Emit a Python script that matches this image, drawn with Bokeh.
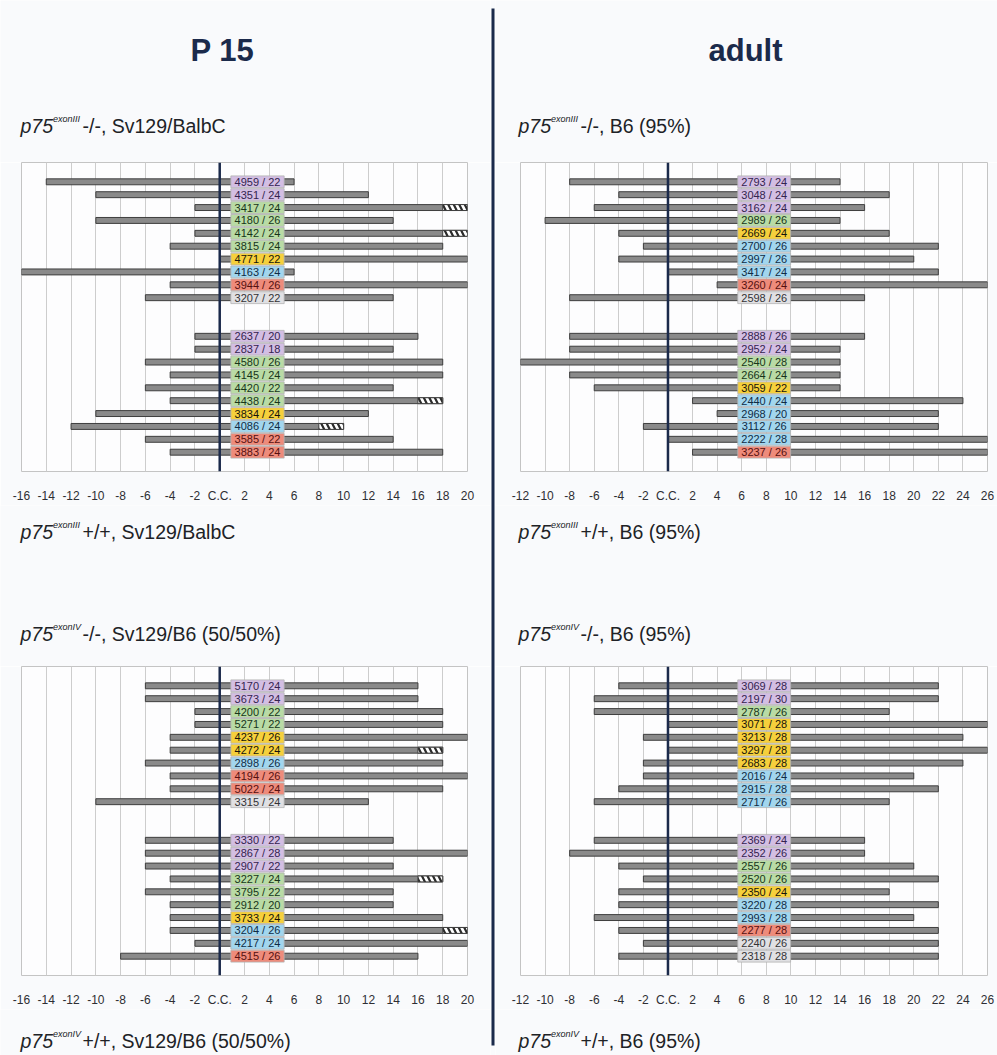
from bokeh.plotting import figure
from bokeh.layouts import row, column
from bokeh.models import Range1d, FixedTicker, Span
from bokeh.core.properties import value
from bokeh.embed import file_html
from bokeh.resources import INLINE

# ---------------------------------------------------------------------------
# Data: clone id, n, segment start / end (relative to C.C.), clone category,
# and where a hatched (uncertain) end segment begins (None = no hatching).
# The first 10 entries of each panel are -/- animals, the last 10 are +/+.
# ---------------------------------------------------------------------------

# P15, p75 exonIII, Sv129/BalbC
tl_ids = [4959, 4351, 3417, 4180, 4142, 3815, 4771, 4163, 3944, 3207,
          2637, 2837, 4580, 4145, 4420, 4438, 3834, 4086, 3585, 3883]
tl_n = [22, 24, 24, 26, 24, 24, 22, 24, 26, 22,
        20, 18, 26, 24, 22, 24, 24, 24, 22, 24]
tl_start = [-14, -10, -2, -10, -2, -4, 0, -16, -4, -6,
            -2, -2, -6, -4, -6, -4, -10, -12, -6, -4]
tl_end = [6, 12, 20, 14, 20, 18, 20, 6, 20, 14,
          16, 14, 18, 18, 14, 18, 12, 10, 14, 18]
tl_cat = ["purple", "purple", "green", "green", "green", "green", "yellow", "blue", "red", "gray",
          "purple", "purple", "green", "green", "green", "green", "yellow", "blue", "red", "red"]
tl_hatch = [None, None, 18, None, 18, None, None, None, None, None,
            None, None, None, None, None, 16, None, 8, None, None]

# adult, p75 exonIII, B6 (95%)
tr_ids = [2793, 3048, 3162, 2989, 2669, 2700, 2997, 3417, 3260, 2598,
          2888, 2952, 2540, 2664, 3059, 2440, 2968, 3112, 2222, 3237]
tr_n = [24, 24, 24, 26, 24, 26, 26, 24, 24, 26,
        26, 24, 28, 24, 22, 24, 20, 26, 28, 26]
tr_start = [-8, -4, -6, -10, -4, -2, -4, 0, 4, -8,
            -8, -8, -12, -8, -6, 2, 4, -2, 0, 2]
tr_end = [14, 18, 16, 14, 18, 22, 20, 22, 26, 16,
          16, 14, 14, 14, 14, 24, 22, 22, 26, 26]
tr_cat = ["purple", "purple", "purple", "green", "yellow", "blue", "blue", "blue", "red", "gray",
          "purple", "purple", "green", "green", "yellow", "blue", "blue", "blue", "blue", "red"]
tr_hatch = [None] * 20

# P15, p75 exonIV, Sv129/B6 (50/50%)
bl_ids = [5170, 3673, 4200, 5271, 4237, 4272, 2898, 4194, 5022, 3315,
          3330, 2867, 2907, 3227, 3795, 2912, 3733, 3204, 4217, 4515]
bl_n = [24, 24, 22, 22, 26, 24, 26, 26, 24, 24,
        22, 28, 22, 24, 22, 20, 24, 26, 24, 26]
bl_start = [-6, -6, -2, -2, -4, -4, -6, -4, -4, -10,
            -6, -6, -6, -4, -6, -4, -4, -4, -2, -8]
bl_end = [16, 16, 18, 18, 20, 18, 18, 20, 18, 12,
          14, 20, 14, 18, 14, 14, 18, 20, 20, 16]
bl_cat = ["purple", "purple", "green", "green", "yellow", "yellow", "blue", "red", "red", "gray",
          "purple", "purple", "purple", "green", "green", "green", "yellow", "blue", "blue", "red"]
bl_hatch = [None, None, None, None, None, 16, None, None, None, None,
            None, None, None, 16, None, None, None, 18, None, None]

# adult, p75 exonIV, B6 (95%)
br_ids = [3069, 2197, 2787, 3071, 3213, 3297, 2683, 2016, 2915, 2717,
          2369, 2352, 2557, 2520, 2350, 3220, 2993, 2277, 2240, 2318]
br_n = [28, 30, 26, 28, 28, 28, 28, 24, 28, 26,
        24, 26, 26, 26, 24, 28, 28, 28, 26, 28]
br_start = [-4, -6, -6, 0, -2, 0, -2, -2, -4, -6,
            -6, -8, -4, -2, -4, -4, -6, -4, -2, -4]
br_end = [22, 22, 18, 26, 24, 26, 24, 20, 22, 18,
          16, 16, 20, 22, 18, 22, 20, 22, 22, 22]
br_cat = ["purple", "purple", "green", "yellow", "yellow", "yellow", "yellow", "blue", "blue", "blue",
          "purple", "purple", "green", "green", "yellow", "blue", "blue", "red", "gray", "gray"]
br_hatch = [None] * 20

# Axis ticks (distance from C.C.) and their labels
p15_ticks = [-16, -14, -12, -10, -8, -6, -4, -2, 0, 2, 4, 6, 8, 10, 12, 14, 16, 18, 20]
adult_ticks = [-12, -10, -8, -6, -4, -2, 0, 2, 4, 6, 8, 10, 12, 14, 16, 18, 20, 22, 24, 26]
centre_label = "C.C."

column_titles = ["P 15", "adult"]
exon_tags = ["exonIII", "exonIV"]
left_strains = ["Sv129/BalbC", "Sv129/B6 (50/50%)"]
right_strains = ["B6 (95%)", "B6 (95%)"]
genotypes = ["-/-", "+/+"]

# ---------------------------------------------------------------------------
# Styling
# ---------------------------------------------------------------------------
FONT = "Liberation Sans"
PAGE_BG = "#f9fafc"
FRAME_BG = "#fdfdfe"
NAVY = "#1b2a4b"
TEXT = "#202226"
GROUP_SIZE = 10
GROUP_GAP = 2

FILL = {"purple": "#d3bee3", "green": "#b9dba5", "yellow": "#f6d03c",
        "blue": "#a2d6ee", "red": "#ee8b7b", "gray": "#e0e0e3"}
INK = {"purple": "#33244f", "green": "#17351a", "yellow": "#16140a",
       "blue": "#102c45", "red": "#561010", "gray": "#333336"}

LEFT_W, DIV_W, RIGHT_W = 490, 5, 502
HDR_H, PANEL_H, MID_H, FOOT_H = 162, 343, 161, 46


def band(width, height):
    p = figure(width=width, height=height,
               x_range=Range1d(0, width), y_range=Range1d(height, 0),
               x_axis_type=None, y_axis_type=None,
               toolbar_location=None, output_backend="svg",
               min_border=0, outline_line_color=None,
               background_fill_color=PAGE_BG, border_fill_color=PAGE_BG)
    p.frame_align = False
    return p


def subtitle(p, x0, y, exon, rest):
    p.text(x=[x0], y=[y], text=["p75"], text_font=value(FONT),
           text_font_size="19.5px", text_font_style="italic",
           text_color=TEXT, text_align="left", text_baseline="middle")
    p.text(x=[x0 + 32.5], y=[y - 7], text=[exon], text_font=value(FONT),
           text_font_size="9px", text_font_style="italic",
           text_color=TEXT, text_align="left", text_baseline="middle")
    p.text(x=[x0 + 62], y=[y], text=[rest], text_font=value(FONT),
           text_font_size="19.5px", text_color=TEXT,
           text_align="left", text_baseline="middle")


def panel(ids, ns, starts, ends, cats, hatch, ticks, label_x,
          width, border_left, border_right):
    x_lo, x_hi = ticks[0], ticks[-1]
    p = figure(width=width, height=PANEL_H,
               x_range=Range1d(x_lo, x_hi), y_range=Range1d(22.5, -1.5),
               y_axis_type=None, toolbar_location=None, output_backend="svg",
               min_border_left=border_left, min_border_right=border_right,
               min_border_top=0, min_border_bottom=31,
               background_fill_color=FRAME_BG, border_fill_color=PAGE_BG,
               outline_line_color="#c4c4c4")

    rows = [i + (GROUP_GAP if i >= GROUP_SIZE else 0) for i in range(len(ids))]

    p.hbar(y=rows, left=starts, right=ends, height=0.46,
           fill_color="#8a8a8a", line_color="#3e3e3e", line_width=1)

    hy = [r for r, h in zip(rows, hatch) if h is not None]
    hl = [h for h in hatch if h is not None]
    hr = [e for e, h in zip(ends, hatch) if h is not None]
    if hy:
        p.hbar(y=hy, left=hl, right=hr, height=0.46,
               fill_color="white", line_color="#3e3e3e", line_width=1,
               hatch_pattern="\\", hatch_color="#2a2a2a",
               hatch_scale=11, hatch_weight=2.2)

    p.add_layout(Span(location=0, dimension="height",
                      line_color=NAVY, line_width=2.5))

    p.rect(x=[label_x] * len(rows), y=rows, width=4.3, height=0.92,
           fill_color=[FILL[c] for c in cats], line_color="#b3b3b3",
           line_width=0.8)
    p.text(x=[label_x] * len(rows), y=rows,
           text=[f"{i} / {n}" for i, n in zip(ids, ns)],
           text_color=[INK[c] for c in cats], text_font=value(FONT),
           text_font_size="11px", text_align="center",
           text_baseline="middle")

    ax = p.xaxis[0]
    ax.ticker = FixedTicker(ticks=ticks)
    ax.major_label_overrides = {t: (centre_label if t == 0 else str(t)) for t in ticks}
    ax.axis_line_color = None
    ax.major_tick_line_color = None
    ax.minor_tick_line_color = None
    ax.major_label_standoff = 11
    ax.major_label_text_font = FONT
    ax.major_label_text_font_size = "12px"
    ax.major_label_text_color = "#2e2e33"
    p.xgrid.grid_line_color = "#cdcdcd"
    p.xgrid.grid_line_width = 1
    return p


def build_column(width, title, title_x, sub_x, strains, panels):
    hdr = band(width, HDR_H)
    hdr.text(x=[title_x], y=[50], text=[title], text_font=value(FONT),
             text_font_size="31px", text_font_style="bold", text_color=NAVY,
             text_align="center", text_baseline="middle")
    subtitle(hdr, sub_x, 125, exon_tags[0], f"{genotypes[0]}, {strains[0]}")

    mid = band(width, MID_H)
    subtitle(mid, sub_x, 26, exon_tags[0], f"{genotypes[1]}, {strains[0]}")
    subtitle(mid, sub_x, 128, exon_tags[1], f"{genotypes[0]}, {strains[1]}")

    foot = band(width, FOOT_H)
    subtitle(foot, sub_x, 31, exon_tags[1], f"{genotypes[1]}, {strains[1]}")

    return column(hdr, panels[0], mid, panels[1], foot, spacing=0)


tl = panel(tl_ids, tl_n, tl_start, tl_end, tl_cat, tl_hatch,
           p15_ticks, 3.05, LEFT_W, 21, 23)
bl = panel(bl_ids, bl_n, bl_start, bl_end, bl_cat, bl_hatch,
           p15_ticks, 3.05, LEFT_W, 21, 23)
tr = panel(tr_ids, tr_n, tr_start, tr_end, tr_cat, tr_hatch,
           adult_ticks, 7.83, RIGHT_W, 25, 10)
br = panel(br_ids, br_n, br_start, br_end, br_cat, br_hatch,
           adult_ticks, 7.83, RIGHT_W, 25, 10)

left_col = build_column(LEFT_W, column_titles[0], 222, 20, left_strains, [tl, bl])
right_col = build_column(RIGHT_W, column_titles[1], 250, 23, right_strains, [tr, br])

total_h = HDR_H + 2 * PANEL_H + MID_H + FOOT_H
divider = band(DIV_W, total_h)
divider.segment(x0=[DIV_W / 2], y0=[8], x1=[DIV_W / 2], y1=[total_h - 10],
                line_color=NAVY, line_width=3)

page = row(left_col, divider, right_col, spacing=0)

open("out.html", "w").write(file_html(page, INLINE))
